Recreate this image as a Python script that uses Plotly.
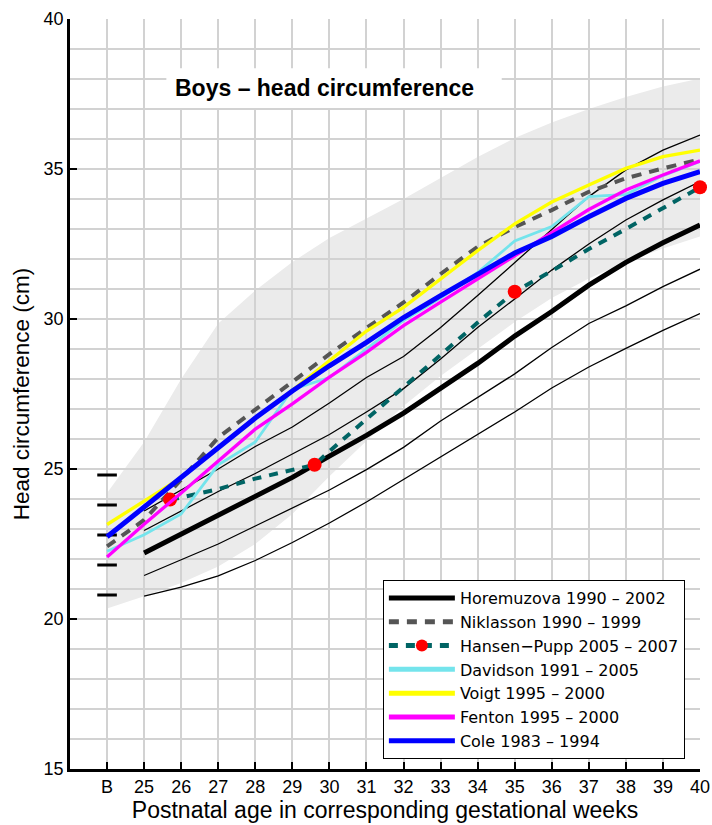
import plotly.graph_objects as go

# x = 24 stands for birth ("B"), then postnatal age in gestational weeks
WEEKS_B = [24, 25, 26, 27, 28, 29, 30, 31, 32, 33, 34, 35, 36, 37, 38, 39, 40]
WEEKS = [25, 26, 27, 28, 29, 30, 31, 32, 33, 34, 35, 36, 37, 38, 39, 40]
WEEK_LABELS = ["B", "25", "26", "27", "28", "29", "30", "31", "32", "33",
               "34", "35", "36", "37", "38", "39", "40"]

# shaded reference band
BAND_UPPER = [24.2, 25.9, 28.0, 29.85, 30.95, 31.9, 32.7, 33.35, 34.0, 34.7,
              35.4, 36.03, 36.55, 37.0, 37.4, 37.75, 38.02]
BAND_LOWER = [20.35, 20.76, 21.2, 21.75, 22.5, 23.5, 24.76, 25.93, 27.1, 28.1,
              29.0, 29.9, 30.7, 31.35, 31.9, 32.35, 32.75]

# Horemuzova mean and spread lines (from week 25)
HOR_MEAN = [22.2, 22.83, 23.45, 24.08, 24.72, 25.43, 26.12, 26.86, 27.67, 28.52,
            29.43, 30.25, 31.13, 31.89, 32.54, 33.13]
HOR_P2 = [23.6, 24.3, 25.0, 25.75, 26.4, 27.2, 28.05, 28.75, 29.72, 30.78,
          31.89, 32.97, 34.08, 34.97, 35.63, 36.13]
HOR_P1 = [22.95, 23.6, 24.25, 24.85, 25.5, 26.15, 26.9, 27.68, 28.67, 29.72,
          30.67, 31.63, 32.5, 33.3, 33.97, 34.58]
HOR_M1 = [21.45, 21.97, 22.5, 23.1, 23.7, 24.3, 24.98, 25.72, 26.6, 27.39,
          28.17, 29.05, 29.85, 30.44, 31.08, 31.66]
HOR_M2 = [20.76, 21.06, 21.44, 21.95, 22.55, 23.2, 23.9, 24.65, 25.4, 26.15,
          26.9, 27.7, 28.4, 29.02, 29.62, 30.18]

# curves starting at birth
NIKLASSON = [22.42, 23.3, 24.65, 26.05, 26.98, 27.9, 28.83, 29.7, 30.55, 31.5,
             32.41, 33.06, 33.63, 34.24, 34.69, 35.02, 35.32]
DAVIDSON = [22.26, 22.81, 23.5, 25.14, 25.9, 27.65, 28.05, 29.0, 29.95, 30.7,
            31.55, 32.6, 33.08, 34.08, 34.15, 34.78, 35.25]
VOIGT = [23.15, 23.93, 24.71, 25.7, 26.7, 27.62, 28.62, 29.6, 30.39, 31.33,
         32.28, 33.17, 33.9, 34.47, 35.02, 35.41, 35.63]
FENTON = [22.07, 23.16, 24.2, 25.26, 26.33, 27.17, 28.06, 28.89, 29.78, 30.56,
          31.33, 32.1, 32.85, 33.65, 34.3, 34.8, 35.27]
COLE = [22.74, 23.72, 24.71, 25.7, 26.7, 27.6, 28.44, 29.22, 30.05, 30.78,
        31.5, 32.2, 32.75, 33.41, 34.02, 34.52, 34.91]

# Hansen-Pupp curve, red dots at the measurement points
HP_AGE = [25.7, 26, 27, 28, 29, 29.6, 30, 31, 32, 33, 34, 35, 36, 37, 38, 39, 40]
HP_HC = [23.98, 24.05, 24.33, 24.68, 24.97, 25.14, 25.59, 26.65, 27.75, 28.8,
         29.88, 30.91, 31.6, 32.33, 33.0, 33.7, 34.39]
HP_DOTS = [25.7, 29.6, 35, 40]

# birth values marked at B
BIRTH_MARKS = [24.8, 23.8, 22.8, 21.8, 20.8]

FONT = "Liberation Sans, Arial, Helvetica, sans-serif"
GRID = "#d2d2d2"

fig = go.Figure()

# band as a shape so that the grid shows on top of it
band_pts = list(zip(WEEKS_B, BAND_UPPER)) + list(zip(WEEKS_B[::-1], BAND_LOWER[::-1]))
band_path = "M " + " L ".join(f"{x},{y}" for x, y in band_pts) + " Z"
fig.add_shape(type="path", path=band_path, xref="x", yref="y", layer="below",
              fillcolor="#ebebeb", line=dict(width=0))

for ys in [HOR_P2, HOR_P1, HOR_M1, HOR_M2]:
    fig.add_trace(go.Scatter(x=WEEKS, y=ys, mode="lines", showlegend=False,
                             line=dict(color="black", width=1.3)))

fig.add_trace(go.Scatter(x=[24] * len(BIRTH_MARKS), y=BIRTH_MARKS, mode="markers",
                         showlegend=False,
                         marker=dict(symbol="line-ew", size=14,
                                     line=dict(color="black", width=3))))

fig.add_trace(go.Scatter(x=WEEKS, y=HOR_MEAN, mode="lines", name="Horemuzova 1990 \u2013 2002",
                         line=dict(color="black", width=5)))
fig.add_trace(go.Scatter(x=WEEKS_B, y=NIKLASSON, mode="lines", name="Niklasson 1990 \u2013 1999",
                         line=dict(color="#555555", width=4, dash="10px,8px")))
fig.add_trace(go.Scatter(x=HP_AGE, y=HP_HC, mode="lines+markers",
                         name="Hansen\u2212Pupp 2005 \u2013 2007", cliponaxis=False,
                         line=dict(color="#006464", width=4, dash="9px,8px"),
                         marker=dict(color="red", opacity=1, line=dict(width=0),
                                     size=[14 if a in HP_DOTS else 0 for a in HP_AGE])))
fig.add_trace(go.Scatter(x=WEEKS_B, y=DAVIDSON, mode="lines", name="Davidson 1991 \u2013 2005",
                         line=dict(color="#74e4ec", width=2.8)))
fig.add_trace(go.Scatter(x=WEEKS_B, y=VOIGT, mode="lines", name="Voigt 1995 \u2013 2000",
                         line=dict(color="#ffff00", width=3.3)))
fig.add_trace(go.Scatter(x=WEEKS_B, y=FENTON, mode="lines", name="Fenton 1995 \u2013 2000",
                         line=dict(color="#ff00ff", width=3.3)))
fig.add_trace(go.Scatter(x=WEEKS_B, y=COLE, mode="lines", name="Cole 1983 \u2013 1994",
                         line=dict(color="#0000ff", width=5)))

# title box
fig.add_shape(type="rect", xref="x", yref="y", x0=25.6, x1=34.65, y0=37.03, y1=38.36,
              layer="between", fillcolor="white", line=dict(width=0))
fig.add_annotation(x=29.88, y=37.7, xref="x", yref="y", showarrow=False,
                   text="<b>Boys \u2013 head circumference</b>",
                   font=dict(family=FONT, size=23, color="black"))

fig.update_layout(
    width=712, height=825,
    margin=dict(l=70, r=12, t=19, b=56, autoexpand=False),
    paper_bgcolor="white", plot_bgcolor="white",
    font=dict(family=FONT, size=18, color="black"),
    hovermode=False,
    legend=dict(x=0.976, y=0.0133, xanchor="right", yanchor="bottom",
                bgcolor="white", bordercolor="black", borderwidth=1,
                font=dict(family="DejaVu Sans, sans-serif", size=16),
                itemwidth=66, itemsizing="constant", tracegroupgap=0),
)
fig.update_xaxes(range=[23, 40], tickvals=WEEKS_B, ticktext=WEEK_LABELS,
                 automargin=False,
                 showgrid=True, gridcolor=GRID, gridwidth=2,
                 showline=True, linecolor="black", linewidth=2.5,
                 ticks="inside", ticklen=7, tickwidth=2, tickcolor="black",
                 zeroline=False,
                 title=dict(text="Postnatal age in corresponding gestational weeks",
                            font=dict(size=23), standoff=4))
fig.update_yaxes(range=[15, 40], tickvals=[15, 20, 25, 30, 35, 40],
                 automargin=False,
                 showgrid=True, gridcolor=GRID, gridwidth=2,
                 minor=dict(dtick=1, showgrid=True, gridcolor=GRID, gridwidth=2, ticks=""),
                 showline=True, linecolor="black", linewidth=2.5,
                 ticks="inside", ticklen=7, tickwidth=2, tickcolor="black",
                 zeroline=False,
                 title=dict(text="Head circumference (cm)", font=dict(size=22.5), standoff=8))

# the page body has a default margin; drop it so the figure fills the window
fig.write_html("out.html", config={"displayModeBar": False},
               post_script="document.body.style.margin='0px';")
